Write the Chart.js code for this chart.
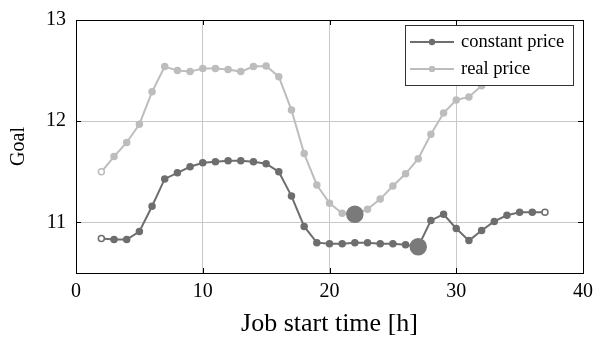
<!DOCTYPE html>
<html>
<head>
<meta charset="utf-8">
<script src="https://cdn.jsdelivr.net/npm/chart.js@4.4.0/dist/chart.umd.min.js"></script>
<style>
  html, body { margin: 0; padding: 0; background: #fff; }
  #wrap { width: 595px; height: 340px; }
</style>
</head>
<body>
<div id="wrap"><canvas id="chart" width="595" height="340"></canvas></div>
<script>
const hours = [2, 3, 4, 5, 6, 7, 8, 9, 10, 11, 12, 13, 14, 15, 16, 17, 18, 19, 20,
  21, 22, 23, 24, 25, 26, 27, 28, 29, 30, 31, 32, 33, 34, 35, 36, 37];
const constantPrice = [10.84, 10.83, 10.83, 10.91, 11.16, 11.43, 11.49, 11.55, 11.59, 11.60,
  11.61, 11.61, 11.60, 11.58, 11.50, 11.26, 10.96, 10.80, 10.79, 10.79, 10.80, 10.80,
  10.79, 10.79, 10.78, 10.76, 11.02, 11.08, 10.94, 10.82, 10.92, 11.01, 11.07, 11.10,
  11.10, 11.10];
const realPrice = [11.50, 11.65, 11.79, 11.97, 12.29, 12.54, 12.50, 12.49, 12.52, 12.52,
  12.51, 12.49, 12.54, 12.545, 12.44, 12.11, 11.68, 11.37, 11.19, 11.09, 11.08, 11.13,
  11.23, 11.36, 11.48, 11.63, 11.87, 12.08, 12.21, 12.24, 12.35, 12.45, 12.52, 12.57,
  12.60, 12.62];
const constantBest = 27;
const realBest = 22;
const xTicks = [0, 10, 20, 30, 40];
const yTicks = [11, 12, 13];
const seriesNames = ["constant price", "real price"];

const DARK = "#6e6e6e";
const LIGHT = "#bdbdbd";
const BIG = "#7a7a7a";
const FONT = "'Liberation Serif', 'DejaVu Serif', serif";

function toXY(vals) {
  return hours.map((h, i) => ({ x: h, y: vals[i] }));
}

function pointStyle(color, best) {
  return {
    pointRadius: (ctx) => (ctx.raw && ctx.raw.x === best ? 8 : 3),
    pointBackgroundColor: (ctx) => {
      if (ctx.raw && ctx.raw.x === best) return BIG;
      if (ctx.dataIndex === 0 || ctx.dataIndex === hours.length - 1) return "#fff";
      return color;
    },
    pointBorderColor: (ctx) => (ctx.raw && ctx.raw.x === best ? BIG : color),
    pointBorderWidth: 1.5,
  };
}

// frame, inward ticks and the boxed legend like pgfplots
const frameAndLegend = {
  id: "frameAndLegend",
  afterDraw(chart) {
    const { ctx, chartArea: a, scales } = chart;
    ctx.save();
    ctx.strokeStyle = "#000";
    ctx.lineWidth = 1;
    xTicks.forEach((v) => {
      const px = Math.round(scales.x.getPixelForValue(v)) + 0.5;
      ctx.beginPath();
      ctx.moveTo(px, a.bottom); ctx.lineTo(px, a.bottom - 5);
      ctx.moveTo(px, a.top); ctx.lineTo(px, a.top + 5);
      ctx.stroke();
    });
    yTicks.forEach((v) => {
      const py = Math.round(scales.y.getPixelForValue(v)) + 0.5;
      ctx.beginPath();
      ctx.moveTo(a.left, py); ctx.lineTo(a.left + 5, py);
      ctx.moveTo(a.right, py); ctx.lineTo(a.right - 5, py);
      ctx.stroke();
    });
    ctx.strokeRect(Math.round(a.left) + 0.5, Math.round(a.top) + 0.5,
      Math.round(a.right - a.left), Math.round(a.bottom - a.top));

    // legend box
    const bx = 405.5, by = 25.5, bw = 168, bh = 60;
    ctx.fillStyle = "#fff";
    ctx.fillRect(bx, by, bw, bh);
    ctx.strokeStyle = "#333";
    ctx.strokeRect(bx, by, bw, bh);
    const colors = [DARK, LIGHT];
    ctx.font = "18.5px " + FONT;
    ctx.textBaseline = "middle";
    seriesNames.forEach((name, i) => {
      const y = 42 + i * 27;
      ctx.strokeStyle = colors[i];
      ctx.lineWidth = 2;
      ctx.beginPath();
      ctx.moveTo(410, y); ctx.lineTo(454, y);
      ctx.stroke();
      ctx.fillStyle = colors[i];
      ctx.beginPath();
      ctx.arc(432, y, 3.2, 0, Math.PI * 2);
      ctx.fill();
      ctx.fillStyle = "#000";
      ctx.fillText(name, 461, y);
    });
    ctx.restore();
  },
};

new Chart(document.getElementById("chart").getContext("2d"), {
  type: "line",
  data: {
    datasets: [
      {
        label: seriesNames[1],
        data: toXY(realPrice),
        borderColor: LIGHT,
        borderWidth: 2,
        tension: 0,
        ...pointStyle(LIGHT, realBest),
      },
      {
        label: seriesNames[0],
        data: toXY(constantPrice),
        borderColor: DARK,
        borderWidth: 2,
        tension: 0,
        ...pointStyle(DARK, constantBest),
      },
    ],
  },
  options: {
    responsive: false,
    animation: false,
    layout: { padding: { top: 20, right: 12, left: 0, bottom: 0 } },
    plugins: {
      legend: { display: false },
      tooltip: { enabled: false },
    },
    scales: {
      x: {
        type: "linear",
        min: 0,
        max: 40,
        afterBuildTicks: (scale) => { scale.ticks = xTicks.map((v) => ({ value: v })); },
        afterFit: (scale) => { scale.height = 67; scale.paddingRight = 0; scale.paddingLeft = 0; },
        grid: { color: "#c8c8c8", lineWidth: 1, drawTicks: false },
        border: { display: false },
        ticks: {
          color: "#000",
          padding: 7,
          font: { family: FONT, size: 20 },
        },
        title: {
          display: true,
          text: "Job start time [h]",
          color: "#000",
          padding: { top: 0, bottom: 0 },
          font: { family: FONT, size: 26 },
        },
      },
      y: {
        type: "linear",
        min: 10.5,
        max: 13,
        afterBuildTicks: (scale) => { scale.ticks = yTicks.map((v) => ({ value: v })); },
        afterFit: (scale) => { scale.width = 76; scale.paddingTop = 0; scale.paddingBottom = 0; },
        grid: { color: "#c8c8c8", lineWidth: 1, drawTicks: false },
        border: { display: false },
        ticks: {
          color: "#000",
          padding: 10,
          font: { family: FONT, size: 20 },
        },
        title: {
          display: true,
          text: "Goal",
          color: "#000",
          padding: { top: 7, bottom: 0 },
          font: { family: FONT, size: 20 },
        },
      },
    },
  },
  plugins: [frameAndLegend],
});
</script>
</body>
</html>
